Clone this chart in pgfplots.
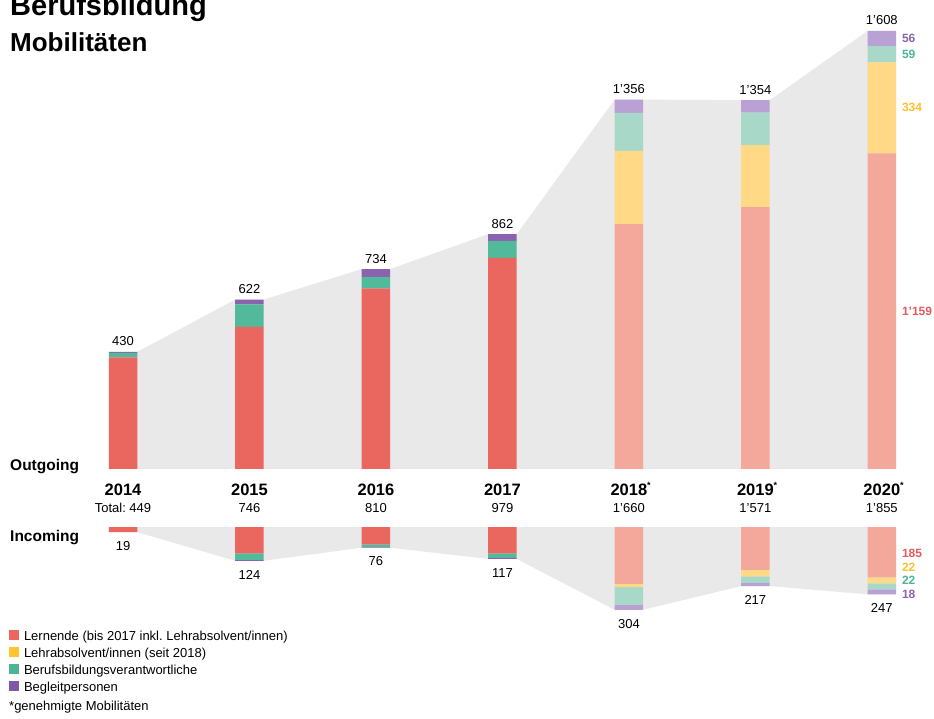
\documentclass[border=0pt]{standalone}
\usepackage{fontspec}
\setmainfont{Liberation Sans}
\usepackage{pgfplots}
\usepackage{pgfplotstable}
\pgfplotsset{compat=1.18}

% bar colours: strong up to 2017, pale from 2018
\definecolor{redD}{HTML}{E9675F}
\definecolor{redL}{HTML}{F4A89C}
\definecolor{yelL}{HTML}{FFD985}
\definecolor{grnD}{HTML}{52B99A}
\definecolor{grnL}{HTML}{A8D8C7}
\definecolor{purD}{HTML}{8A62AE}
\definecolor{purL}{HTML}{B9A1D6}
\definecolor{bandgray}{HTML}{E9E9E9}
% legend / label colours
\definecolor{legR}{HTML}{EC6560}
\definecolor{legY}{HTML}{FFC52E}
\definecolor{legG}{HTML}{4DB597}
\definecolor{legP}{HTML}{8157A8}
\definecolor{txtR}{HTML}{E65A5C}
\definecolor{txtY}{HTML}{FDBF2D}
\definecolor{txtG}{HTML}{4DB497}
\definecolor{txtP}{HTML}{8B63B0}

% outgoing
\pgfplotstableread{
yr rd  rl   yl  gd gl  pd pl
0  410 0    0   16 0   4  0
1  522 0    0   82 0   18 0
2  663 0    0   42 0   29 0
3  775 0    0   62 0   25 0
4  0   899  269 0  139 0  49
5  0   961  228 0  119 0  46
6  0   1159 334 0  59  0  56
}\outtab

% incoming (drawn downwards)
\pgfplotstableread{
yr rd  rl   yl  gd  gl  pd pl
0  -19 0    0   0   0   0  0
1  -97 0    0   -24 0   -3 0
2  -64 0    0   -9  0   -3 0
3  -97 0    0   -16 0   -4 0
4  0   -209 -12 0   -65 0  -18
5  0   -157 -24 0   -24 0  -12
6  0   -185 -22 0   -22 0  -18
}\intab

\pgfplotsset{
  mobBase/.style={scale only axis, width=934pt, xmin=-0.9726, xmax=6.4126,
    hide axis, clip=false, anchor=south west},
  mobOut/.style={mobBase, height=469pt, ymin=0, ymax=1721.7, at={(0pt,249pt)}},
  mobIn/.style={mobBase, height=191pt, ymin=-701.2, ymax=0, at={(0pt,0pt)}},
}
\tikzset{
  toplbl/.style={anchor=base, inner sep=0pt, yshift=6pt, font=\fontsize{13}{15}\selectfont},
  botlbl/.style={anchor=north, inner sep=0pt, yshift=-9pt, font=\fontsize{13}{15}\selectfont},
  yrlbl/.style={anchor=base, inner sep=0pt, yshift=-26.7pt, font=\fontsize{16.5}{18}\selectfont\bfseries},
  totlbl/.style={anchor=base, inner sep=0pt, yshift=-43.3pt, font=\fontsize{13}{15}\selectfont},
  sidelbl/.style={anchor=west, inner sep=0pt, xshift=20pt, font=\fontsize{12}{14}\selectfont\bfseries},
}
\newcommand{\yrstar}{\rlap{\raisebox{7pt}{\fontsize{9}{9}\selectfont *}}}

\begin{document}
\frenchspacing
\begin{tikzpicture}
\useasboundingbox (0pt,0pt) rectangle (934pt,718pt);

% grey bands behind the bars
\begin{axis}[mobOut]
\addplot[fill=bandgray, draw=none] coordinates {(-0.1127,430) (0.1127,430) (0.8873,622) (1.1127,622) (1.8873,734) (2.1127,734) (2.8873,862) (3.1127,862) (3.8873,1356) (4.1127,1356) (4.8873,1354) (5.1127,1354) (5.8873,1608) (6.1127,1608)} \closedcycle;
\end{axis}
\begin{axis}[mobIn]
\addplot[fill=bandgray, draw=none] coordinates {(-0.1127,-19) (0.1127,-19) (0.8873,-124) (1.1127,-124) (1.8873,-76) (2.1127,-76) (2.8873,-117) (3.1127,-117) (3.8873,-304) (4.1127,-304) (4.8873,-217) (5.1127,-217) (5.8873,-247) (6.1127,-247)} \closedcycle;
\end{axis}

% outgoing bars
\begin{axis}[mobOut, ybar stacked, bar width=28.5pt]
\addplot[fill=redD, draw=none] table[x=yr, y=rd] {\outtab};
\addplot[fill=redL, draw=none] table[x=yr, y=rl] {\outtab};
\addplot[fill=yelL, draw=none] table[x=yr, y=yl] {\outtab};
\addplot[fill=grnD, draw=none] table[x=yr, y=gd] {\outtab};
\addplot[fill=grnL, draw=none] table[x=yr, y=gl] {\outtab};
\addplot[fill=purD, draw=none] table[x=yr, y=pd] {\outtab};
\addplot[fill=purL, draw=none] table[x=yr, y=pl] {\outtab};
\end{axis}

% incoming bars
\begin{axis}[mobIn, ybar stacked, bar width=28.5pt,
  legend style={at={(axis description cs:0.009,0.4675)}, anchor=north west,
    draw=none, fill=none, inner sep=0pt, row sep=0pt, column sep=6pt,
    font=\fontsize{13}{15}\selectfont,
    nodes={inner xsep=0pt, inner ysep=0pt, text height=9.5pt, text depth=3pt, minimum height=17pt}},
  legend cell align=left]
\addplot[fill=redD, draw=none, forget plot] table[x=yr, y=rd] {\intab};
\addplot[fill=redL, draw=none, forget plot] table[x=yr, y=rl] {\intab};
\addplot[fill=yelL, draw=none, forget plot] table[x=yr, y=yl] {\intab};
\addplot[fill=grnD, draw=none, forget plot] table[x=yr, y=gd] {\intab};
\addplot[fill=grnL, draw=none, forget plot] table[x=yr, y=gl] {\intab};
\addplot[fill=purD, draw=none, forget plot] table[x=yr, y=pd] {\intab};
\addplot[fill=purL, draw=none, forget plot] table[x=yr, y=pl] {\intab};
\addlegendimage{legend image code/.code={\fill[legR] (0pt,-1.5pt) rectangle (9pt,7.5pt);}}
\addlegendentry{Lernende (bis 2017 inkl. Lehrabsolvent/innen)}
\addlegendimage{legend image code/.code={\fill[legY] (0pt,-1.5pt) rectangle (9pt,7.5pt);}}
\addlegendentry{Lehrabsolvent/innen (seit 2018)}
\addlegendimage{legend image code/.code={\fill[legG] (0pt,-1.5pt) rectangle (9pt,7.5pt);}}
\addlegendentry{Berufsbildungsverantwortliche}
\addlegendimage{legend image code/.code={\fill[legP] (0pt,-1.5pt) rectangle (9pt,7.5pt);}}
\addlegendentry{Begleitpersonen}
\end{axis}

% outgoing labels
\begin{axis}[mobOut]
\node[toplbl] at (axis cs:0,430) {430};
\node[toplbl] at (axis cs:1,622) {622};
\node[toplbl] at (axis cs:2,734) {734};
\node[toplbl] at (axis cs:3,862) {862};
\node[toplbl] at (axis cs:4,1356) {1'356};
\node[toplbl] at (axis cs:5,1354) {1'354};
\node[toplbl] at (axis cs:6,1608) {1'608};
\node[yrlbl] at (axis cs:0,0) {2014};
\node[yrlbl] at (axis cs:1,0) {2015};
\node[yrlbl] at (axis cs:2,0) {2016};
\node[yrlbl] at (axis cs:3,0) {2017};
\node[yrlbl] at (axis cs:4,0) {2018\yrstar};
\node[yrlbl] at (axis cs:5,0) {2019\yrstar};
\node[yrlbl] at (axis cs:6,0) {2020\yrstar};
\node[totlbl] at (axis cs:0,0) {Total: 449};
\node[totlbl] at (axis cs:1,0) {746};
\node[totlbl] at (axis cs:2,0) {810};
\node[totlbl] at (axis cs:3,0) {979};
\node[totlbl] at (axis cs:4,0) {1'660};
\node[totlbl] at (axis cs:5,0) {1'571};
\node[totlbl] at (axis cs:6,0) {1'855};
\node[sidelbl, text=txtP] at (axis cs:6,1580) {56};
\node[sidelbl, text=txtG] at (axis cs:6,1522) {59};
\node[sidelbl, text=txtY] at (axis cs:6,1326) {334};
\node[sidelbl, text=txtR] at (axis cs:6,580) {1'159};
\end{axis}

% incoming labels
\begin{axis}[mobIn]
\node[botlbl] at (axis cs:0,-19) {19};
\node[botlbl] at (axis cs:1,-124) {124};
\node[botlbl] at (axis cs:2,-76) {76};
\node[botlbl] at (axis cs:3,-117) {117};
\node[botlbl] at (axis cs:4,-304) {304};
\node[botlbl] at (axis cs:5,-217) {217};
\node[botlbl] at (axis cs:6,-247) {247};
\node[sidelbl, text=txtR] at (axis cs:6,-95) {185};
\node[sidelbl, text=txtY] at (axis cs:6,-147) {22};
\node[sidelbl, text=txtG] at (axis cs:6,-195) {22};
\node[sidelbl, text=txtP] at (axis cs:6,-246) {18};
\end{axis}

% titles and side labels
\node[anchor=base west, inner sep=0pt, font=\fontsize{29}{32}\selectfont\bfseries] at (10pt,702pt) {Berufsbildung};
\node[anchor=base west, inner sep=0pt, font=\fontsize{26}{29}\selectfont\bfseries] at (10pt,666pt) {Mobilitäten};
\node[anchor=base west, inner sep=0pt, font=\fontsize{15.5}{17}\selectfont\bfseries] at (10pt,247.5pt) {Outgoing};
\node[anchor=base west, inner sep=0pt, font=\fontsize{15.5}{17}\selectfont\bfseries] at (10pt,176.5pt) {Incoming};
\node[anchor=base west, inner sep=0pt, font=\fontsize{13}{15}\selectfont] at (9pt,8pt) {*genehmigte Mobilitäten};
\end{tikzpicture}
\end{document}
